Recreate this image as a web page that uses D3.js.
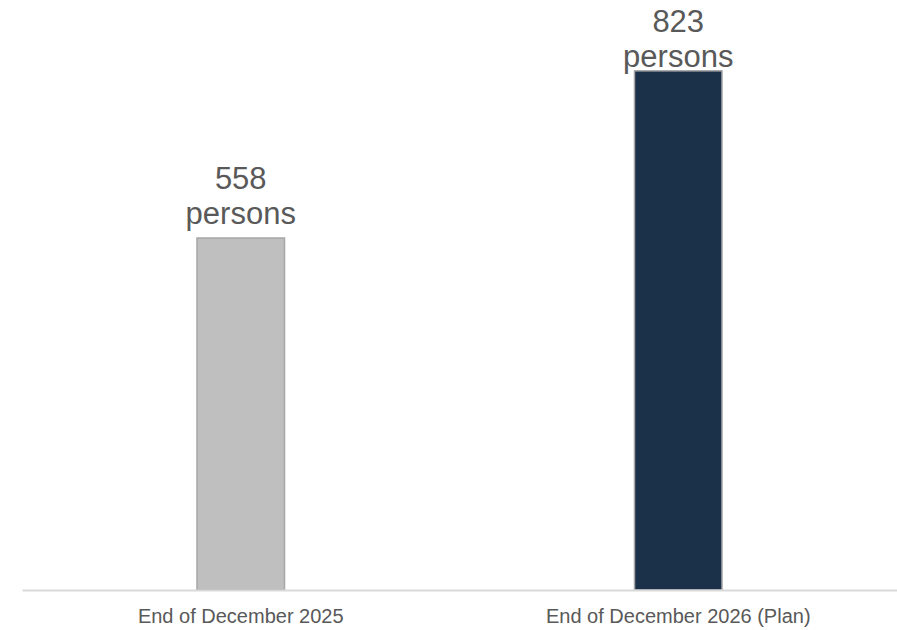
<!DOCTYPE html>
<html>
<head>
<meta charset="utf-8">
<script src="https://cdn.jsdelivr.net/npm/d3@7"></script>
<style>
  html, body { margin: 0; padding: 0; background: #fff; }
  svg { display: block; font-family: "Liberation Sans", Arial, sans-serif; }
</style>
</head>
<body>
<script>
// headcount at each period end
const categories = ["End of December 2025", "End of December 2026 (Plan)"];
const values = [558, 823];
const unit = "persons";
const colors = ["#bfbfbf", "#1b3049"];

const width = 897, height = 630;
const baseY = 590;

const svg = d3.select("body").append("svg")
    .attr("width", width)
    .attr("height", height);

let x = d3.scaleBand()
    .domain(categories)
    .range([22, 897])
    .paddingInner(0.8)
    .paddingOuter(0.4);

let y = d3.scaleLinear()
    .domain([0, 900])
    .range([baseY, baseY - 900 * 0.6308]);

// bars
svg.append("g")
    .selectAll("rect")
    .data(values)
    .enter().append("rect")
    .attr("x", (d, i) => x(categories[i]))
    .attr("y", d => y(d))
    .attr("width", x.bandwidth())
    .attr("height", d => baseY - y(d))
    .style("fill", (d, i) => colors[i])
    .style("stroke", "#a6a6a6")
    .style("stroke-width", 1.5);

// category axis: plain line, no ticks
let axis = svg.append("g")
    .attr("transform", "translate(0," + baseY + ")")
    .call(d3.axisBottom(x).tickSize(0).tickPadding(19));
axis.select(".domain")
    .attr("stroke", "#d9d9d9")
    .attr("stroke-width", 2);
axis.selectAll("text")
    .attr("fill", "#595959")
    .style("font-size", "20px")
    .style("font-family", "'Liberation Sans', Arial, sans-serif");

// value labels, two lines above each bar; kept inside the top edge
let labelY = d => Math.max(y(d) - 49, 32);

let labels = svg.append("g")
    .selectAll("text")
    .data(values)
    .enter().append("text")
    .attr("text-anchor", "middle")
    .attr("fill", "#595959")
    .style("font-size", "31px");

labels.append("tspan")
    .attr("x", (d, i) => x(categories[i]) + x.bandwidth() / 2)
    .attr("y", d => labelY(d))
    .text(d => d);

labels.append("tspan")
    .attr("x", (d, i) => x(categories[i]) + x.bandwidth() / 2)
    .attr("y", d => labelY(d) + 35)
    .text(unit);
</script>
</body>
</html>
